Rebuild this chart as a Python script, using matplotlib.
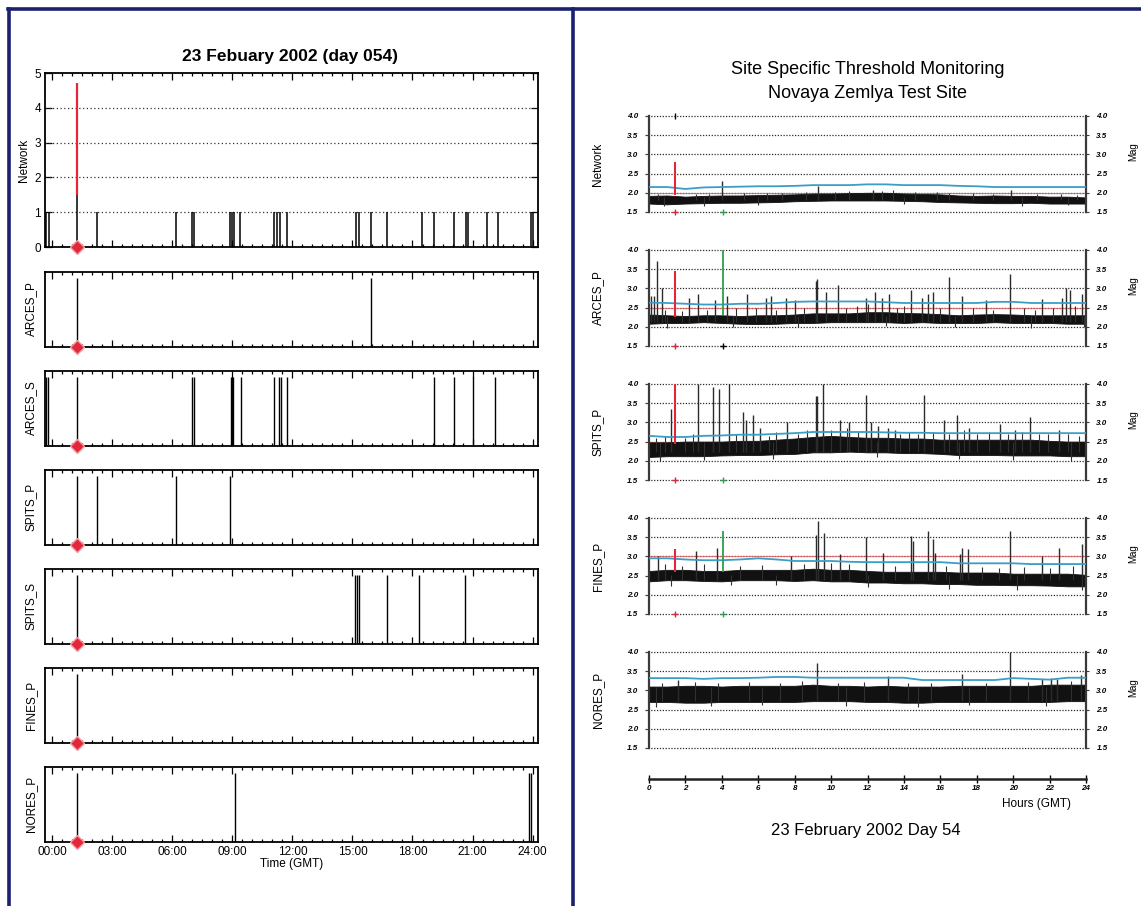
import numpy as np
import matplotlib.pyplot as plt
from matplotlib.lines import Line2D

plt.rcParams['font.family'] = ['Liberation Sans', 'DejaVu Sans']

# ---- left side: detections per station (hours GMT) ----
EVENT_LEFT = 1.25
net_det = [-0.30, -0.18, 2.22, 6.16, 6.99, 7.08, 8.87, 8.96, 9.06, 9.40,
           11.07, 11.25, 11.37, 11.75, 15.17, 15.31, 15.94, 16.74, 18.45,
           19.07, 20.09, 20.68, 20.77, 21.70, 22.29, 23.91, 24.0]
net_event_black = 1.5
net_event_red = 4.7
arces_p_det = [15.92]
arces_s_det = [-0.30, -0.20, 7.0, 7.08, 8.92, 9.0, 9.05, 9.42, 11.09, 11.35,
               11.41, 11.75, 19.05, 20.06, 21.0, 22.14]
spits_p_det = [2.22, 6.18, 8.87]
spits_s_det = [15.15, 15.22, 15.32, 16.72, 18.34, 20.63]
fines_p_det = []
nores_p_det = [9.12, 23.83, 23.9]
left_stations = ['ARCES_P', 'ARCES_S', 'SPITS_P', 'SPITS_S', 'FINES_P', 'NORES_P']
left_ticks = [0, 3, 6, 9, 12, 15, 18, 21, 24]
left_ticklabels = ['00:00', '03:00', '06:00', '09:00', '12:00', '15:00',
                   '18:00', '21:00', '24:00']

# ---- right side: threshold monitoring traces ----
hours = np.arange(25)
EVENT_RIGHT = 1.43
EVENT_2 = 4.06

net_low = [1.72, 1.70, 1.72, 1.73, 1.74, 1.74, 1.75, 1.76, 1.78, 1.79, 1.80, 1.80, 1.80,
           1.80, 1.79, 1.78, 1.76, 1.75, 1.74, 1.73, 1.73, 1.74, 1.72, 1.72, 1.72]
net_high = [1.92, 1.93, 1.90, 1.92, 1.93, 1.93, 1.94, 1.95, 1.96, 1.98, 1.98, 1.99, 2.00,
            2.00, 1.98, 1.97, 1.96, 1.93, 1.92, 1.93, 1.92, 1.92, 1.90, 1.90, 1.88]
net_thr = [2.15, 2.15, 2.10, 2.14, 2.15, 2.16, 2.17, 2.17, 2.18, 2.20, 2.20, 2.20, 2.22,
           2.22, 2.20, 2.20, 2.20, 2.18, 2.17, 2.15, 2.15, 2.15, 2.15, 2.15, 2.15]
net_spk_t = [4.0, 9.3, 12.3, 19.9]
net_spk_v = [2.30, 2.18, 2.08, 2.07]
net_up_t = [0.5, 2.6, 3.3, 5.2, 6.5, 7.3, 8.6, 10.2, 11.0, 12.8, 13.4, 14.6, 15.8,
            16.5, 17.8, 18.9, 21.3, 22.6, 23.5]
net_up_v = [1.98, 1.97, 1.98, 1.99, 2.00, 2.00, 2.02, 2.03, 2.04, 2.05, 2.06, 2.02, 2.03,
            2.00, 2.00, 1.98, 1.97, 1.96, 1.95]
net_dip_t = [0.8, 3.0, 6.0, 14.0, 20.5, 23.0]
net_dip_v = [1.65, 1.66, 1.68, 1.70, 1.66, 1.67]

arc_low = [2.08, 2.10, 2.10, 2.12, 2.10, 2.08, 2.07, 2.08, 2.10, 2.10, 2.12, 2.12, 2.12,
           2.12, 2.10, 2.12, 2.10, 2.10, 2.10, 2.12, 2.10, 2.10, 2.10, 2.08, 2.08]
arc_high = [2.32, 2.30, 2.28, 2.30, 2.30, 2.28, 2.30, 2.30, 2.32, 2.35, 2.35, 2.35, 2.38,
            2.38, 2.36, 2.35, 2.33, 2.30, 2.32, 2.33, 2.32, 2.30, 2.30, 2.30, 2.30]
arc_thr = [2.63, 2.62, 2.60, 2.58, 2.58, 2.60, 2.60, 2.62, 2.65, 2.66, 2.66, 2.66, 2.66,
           2.64, 2.62, 2.62, 2.62, 2.62, 2.62, 2.65, 2.65, 2.62, 2.62, 2.62, 2.62]
arc_spk_t = [0.1, 0.3, 0.46, 0.7, 2.2, 2.7, 3.6, 4.3, 5.4, 6.4, 6.7, 7.5, 8.0, 9.15, 9.25,
             9.74, 10.4, 11.9, 12.4, 12.8, 13.2, 14.4, 15.0, 15.3, 15.6, 16.5, 17.2,
             18.5, 19.8, 21.6, 22.7, 22.9, 23.1, 23.8]
arc_spk_v = [2.80, 2.80, 3.72, 3.00, 2.75, 2.85, 2.70, 2.80, 2.85, 2.75, 2.80, 2.75, 2.70,
             3.20, 3.25, 2.90, 3.10, 2.75, 2.90, 2.75, 2.85, 2.95, 2.75, 2.85, 2.90,
             3.30, 2.80, 2.70, 3.38, 2.72, 2.75, 3.00, 2.95, 2.85]
arc_up_t = [0.9, 1.8, 3.2, 4.8, 5.9, 7.0, 8.5, 10.8, 11.4, 12.0, 13.6, 14.0, 16.0, 17.8,
            18.9, 20.6, 21.2, 22.2, 23.4]
arc_up_v = [2.45, 2.42, 2.45, 2.50, 2.48, 2.45, 2.50, 2.50, 2.55, 2.60, 2.50, 2.55, 2.50,
            2.48, 2.45, 2.50, 2.45, 2.50, 2.55]
arc_dip_t = [1.0, 4.6, 8.2, 13.0, 16.8, 21.0, 23.9]
arc_dip_v = [1.98, 2.00, 2.00, 2.02, 2.00, 1.98, 2.00]

spi_low = [2.10, 2.12, 2.12, 2.12, 2.14, 2.15, 2.15, 2.17, 2.18, 2.22, 2.22, 2.24, 2.22,
           2.22, 2.20, 2.20, 2.18, 2.15, 2.15, 2.15, 2.14, 2.14, 2.14, 2.12, 2.12]
spi_high = [2.48, 2.48, 2.50, 2.50, 2.50, 2.52, 2.52, 2.55, 2.58, 2.62, 2.65, 2.62, 2.60,
            2.60, 2.58, 2.58, 2.55, 2.55, 2.55, 2.55, 2.55, 2.55, 2.52, 2.50, 2.50]
spi_thr = [2.65, 2.62, 2.62, 2.65, 2.66, 2.68, 2.68, 2.70, 2.72, 2.75, 2.75, 2.75, 2.75,
           2.74, 2.73, 2.73, 2.72, 2.72, 2.72, 2.72, 2.72, 2.72, 2.72, 2.72, 2.72]
spi_spk_t = [1.23, 2.7, 3.5, 3.86, 4.4, 5.15, 5.3, 5.7, 6.1, 7.6, 9.15, 9.25, 9.55, 10.5,
             11.0, 11.9, 12.2, 12.6, 13.1, 13.5, 15.1, 16.2, 16.9, 17.6, 19.3, 20.1,
             20.9, 22.5]
spi_spk_v = [3.35, 4.00, 3.92, 3.88, 4.00, 3.27, 3.05, 3.20, 2.85, 3.00, 3.68, 3.68, 4.00,
             3.05, 3.00, 3.72, 3.00, 2.90, 2.85, 2.80, 3.72, 3.05, 3.20, 2.85, 2.95,
             2.80, 3.15, 2.80]
spi_up_t = [0.4, 0.9, 2.0, 2.4, 4.8, 6.6, 7.0, 8.2, 8.7, 10.0, 10.9, 11.5, 13.8, 14.3,
            14.8, 15.6, 16.5, 17.3, 18.0, 18.7, 19.7, 20.5, 21.4, 21.9, 23.0, 23.6]
spi_up_v = [2.60, 2.65, 2.60, 2.70, 2.70, 2.65, 2.75, 2.70, 2.80, 2.80, 2.85, 2.75, 2.70,
            2.75, 2.70, 2.75, 2.70, 2.80, 2.70, 2.75, 2.70, 2.75, 2.70, 2.70, 2.70, 2.65]
spi_dip_t = [0.6, 3.0, 6.8, 12.5, 17.0, 20.0, 23.2]
spi_dip_v = [2.00, 2.02, 2.05, 2.10, 2.05, 2.02, 2.00]

fin_low = [2.35, 2.38, 2.38, 2.36, 2.35, 2.38, 2.38, 2.38, 2.36, 2.38, 2.35, 2.35, 2.32,
           2.32, 2.30, 2.30, 2.28, 2.28, 2.26, 2.26, 2.25, 2.25, 2.24, 2.22, 2.22]
fin_high = [2.62, 2.65, 2.65, 2.62, 2.62, 2.65, 2.65, 2.65, 2.65, 2.68, 2.65, 2.65, 2.62,
            2.60, 2.60, 2.60, 2.60, 2.58, 2.58, 2.58, 2.55, 2.55, 2.55, 2.55, 2.52]
fin_thr = [2.95, 2.95, 2.92, 2.90, 2.90, 2.92, 2.95, 2.92, 2.88, 2.88, 2.88, 2.86, 2.85,
           2.85, 2.85, 2.85, 2.85, 2.82, 2.82, 2.82, 2.82, 2.80, 2.80, 2.80, 2.80]
fin_spk_t = [0.5, 2.6, 3.76, 7.8, 9.15, 9.3, 9.6, 10.5, 11.9, 12.85, 14.4, 14.5, 15.3,
             15.6, 15.7, 17.1, 17.2, 17.5, 19.8, 21.6, 22.5, 23.8]
fin_spk_v = [3.00, 3.15, 3.22, 3.00, 3.55, 3.92, 3.60, 3.05, 3.50, 3.10, 3.52, 3.40, 3.65,
             3.45, 3.10, 3.05, 3.22, 3.18, 3.65, 3.00, 3.22, 3.32]
fin_up_t = [0.9, 1.8, 3.0, 5.0, 6.2, 8.5, 10.0, 11.0, 13.5, 16.3, 18.3, 19.2, 20.6, 22.0,
            23.3]
fin_up_v = [2.80, 2.75, 2.80, 2.75, 2.78, 2.80, 2.82, 2.80, 2.75, 2.75, 2.72, 2.70, 2.72,
            2.70, 2.75]
fin_dip_t = [1.2, 4.5, 7.0, 12.0, 16.5, 20.2, 23.8]
fin_dip_v = [2.22, 2.25, 2.25, 2.20, 2.15, 2.12, 2.12]

nor_low = [2.70, 2.70, 2.68, 2.68, 2.70, 2.70, 2.70, 2.70, 2.70, 2.72, 2.72, 2.72, 2.70,
           2.70, 2.68, 2.68, 2.70, 2.70, 2.70, 2.70, 2.70, 2.70, 2.70, 2.72, 2.72]
nor_high = [3.10, 3.10, 3.12, 3.12, 3.10, 3.12, 3.12, 3.12, 3.12, 3.15, 3.12, 3.12, 3.10,
            3.12, 3.10, 3.10, 3.10, 3.12, 3.12, 3.12, 3.12, 3.12, 3.15, 3.15, 3.15]
nor_thr = [3.32, 3.32, 3.32, 3.30, 3.32, 3.32, 3.33, 3.35, 3.35, 3.33, 3.33, 3.33, 3.33,
           3.33, 3.33, 3.27, 3.27, 3.27, 3.27, 3.27, 3.32, 3.30, 3.28, 3.33, 3.33]
nor_spk_t = [1.6, 9.2, 13.1, 17.2, 19.8, 21.6, 22.1, 22.4, 23.7]
nor_spk_v = [3.28, 3.72, 3.38, 3.42, 4.00, 3.30, 3.32, 3.30, 3.40]
nor_up_t = [0.7, 2.5, 3.8, 5.5, 7.2, 8.4, 10.4, 11.8, 14.2, 15.5, 18.5, 20.8, 23.2]
nor_up_v = [3.20, 3.22, 3.20, 3.22, 3.20, 3.25, 3.20, 3.22, 3.20, 3.18, 3.20, 3.22, 3.25]
nor_dip_t = [0.4, 3.4, 6.2, 10.8, 14.8, 17.6, 21.8]
nor_dip_v = [2.58, 2.60, 2.62, 2.60, 2.58, 2.62, 2.60]

right_names = ['Network', 'ARCES_P', 'SPITS_P', 'FINES_P', 'NORES_P']
red_level = [2.0, 2.5, 2.5, 3.0, 3.0]
# event spikes: (base, top)
event_red = [(1.95, 2.8), (2.25, 3.45), (2.45, 4.0), (2.6, 3.2), None]
event_green = [None, (2.3, 4.0), None, (2.6, 3.65), None]
foot_marks = [('#d8263a', '#2e9e48'), ('#d8263a', 'k'), ('#d8263a', '#2e9e48'),
              ('#d8263a', '#2e9e48'), None]

W, H = 1141, 906
fig = plt.figure(figsize=(W / 100, H / 100), dpi=100)


def box(l, t, r, b):
    return fig.add_axes([l / W, 1 - b / H, (r - l) / W, (b - t) / H])


NAVY = '#1c2070'
RED = '#e3263a'

# ── frame around both halves ──────────────────────────────────────────────
for xs, ys in [([8, W], [9, 9]), ([9, 9], [9, H]), ([573, 573], [9, H])]:
    fig.add_artist(Line2D([x / W for x in xs], [1 - y / H for y in ys],
                          color=NAVY, lw=2.6))

# ── left: detection panels ────────────────────────────────────────────────
XL = (-0.36, 24.27)


def style_left(ax):
    ax.set_xlim(*XL)
    ax.set_xticks(left_ticks)
    ax.set_xticks(np.arange(0, 24.01, 0.5), minor=True)
    ax.tick_params(which='both', direction='in', top=True, right=True,
                   labelbottom=False, width=0.9)
    ax.tick_params(which='major', length=5)
    ax.tick_params(which='minor', length=2.5)
    for s in ax.spines.values():
        s.set_linewidth(1.3)


def event_diamond(ax):
    ax.plot(EVENT_LEFT, 0, 'D', color=RED, ms=7, mec='#f29aa2', mew=1.0,
            clip_on=False, zorder=5)


ax = box(45, 73, 538, 247)
style_left(ax)
ax.set_ylim(0, 5)
ax.set_yticks(range(6))
ax.tick_params(axis='y', labelsize=8.5, pad=3)
for y in range(1, 5):
    ax.axhline(y, ls=(0, (1, 2)), color='#333333', lw=0.9)
ax.vlines(net_det, 0, 1, color='k', lw=1.1)
ax.vlines(EVENT_LEFT, 0, net_event_black, color='k', lw=1.1)
ax.vlines(EVENT_LEFT, net_event_black, net_event_red, color=RED, lw=1.6)
event_diamond(ax)
ax.set_ylabel('Network', fontsize=8.5, labelpad=3)
fig.text(290 / W, 1 - 56 / H, '23 Febuary 2002 (day 054)', ha='center',
         va='center', fontsize=12.5, fontweight='bold')

left_det = [arces_p_det, arces_s_det, spits_p_det, spits_s_det, fines_p_det,
            nores_p_det]
for i, (name, det) in enumerate(zip(left_stations, left_det)):
    top = 272 + 99 * i
    ax = box(45, top, 538, top + 75)
    style_left(ax)
    ax.set_ylim(0, 1.08)
    ax.set_yticks([])
    ax.vlines(det, 0, 1, color='k', lw=1.0)
    ax.vlines(EVENT_LEFT, 0, 1, color='k', lw=1.0)
    event_diamond(ax)
    fig.text(31 / W, 1 - (top + 37) / H, name, rotation=90, ha='center',
             va='center', fontsize=8.5)
    if i == len(left_stations) - 1:
        ax.tick_params(labelbottom=True, labelsize=8.5, pad=3)
        ax.set_xticklabels(left_ticklabels)
        ax.set_xlabel('Time (GMT)', fontsize=8.5, labelpad=0)

# ── right: site specific threshold monitoring ─────────────────────────────
fig.text(868 / W, 1 - 70 / H, 'Site Specific Threshold Monitoring',
         ha='center', va='center', fontsize=13)
fig.text(868 / W, 1 - 94 / H, 'Novaya Zemlya Test Site',
         ha='center', va='center', fontsize=13)

bands = [(net_low, net_high), (arc_low, arc_high), (spi_low, spi_high),
         (fin_low, fin_high), (nor_low, nor_high)]
thresholds = [net_thr, arc_thr, spi_thr, fin_thr, nor_thr]
spikes = [(net_spk_t, net_spk_v), (arc_spk_t, arc_spk_v), (spi_spk_t, spi_spk_v),
          (fin_spk_t, fin_spk_v), (nor_spk_t, nor_spk_v)]
small_up = [(net_up_t, net_up_v), (arc_up_t, arc_up_v), (spi_up_t, spi_up_v),
            (fin_up_t, fin_up_v), (nor_up_t, nor_up_v)]
small_dip = [(net_dip_t, net_dip_v), (arc_dip_t, arc_dip_v), (spi_dip_t, spi_dip_v),
             (fin_dip_t, fin_dip_v), (nor_dip_t, nor_dip_v)]
levels = np.arange(1.5, 4.01, 0.5)
narrow = ['Liberation Sans Narrow', 'Liberation Sans']

for i, name in enumerate(right_names):
    top = 116 + 134 * i
    ax = box(649, top, 1086, top + 96)
    ax.set_xlim(0, 24)
    ax.set_ylim(1.5, 4.0)
    ax.patch.set_visible(False)
    ax.spines['top'].set_visible(False)
    ax.spines['bottom'].set_visible(False)
    for s in ('left', 'right'):
        ax.spines[s].set_color('#3a3a3a')
        ax.spines[s].set_linewidth(1.6)
    ax.set_xticks([])
    ax.set_yticks(levels)
    ax.set_yticklabels([f'{v:.1f}' for v in levels], fontsize=5.8,
                       fontstyle='italic', fontweight='bold')
    ax.tick_params(axis='y', left=True, right=True, labelright=True,
                   length=2.5, width=0.8, pad=5, color='#3a3a3a')
    for y in levels:
        ax.plot([-0.2, 24], [y, y], ls=(0, (1, 1.3)), color='#2a2a2a', lw=0.9,
                clip_on=False, zorder=1)
    ax.axhline(red_level[i], color='#e26060', lw=0.8, alpha=0.8, zorder=1.5)

    lo, hi = bands[i]
    ax.fill_between(hours, lo, hi, color='#111111', lw=0.6, zorder=2)
    # short spikes poke out of the noise band, so start them inside it
    ut, uv = small_up[i]
    ax.vlines(ut, np.max(lo), uv, color='#303030', lw=0.8, zorder=2)
    dt, dv = small_dip[i]
    ax.vlines(dt, dv, np.min(hi), color='#303030', lw=0.8, zorder=2)
    st, sv = spikes[i]
    ax.vlines(st, np.max(lo), sv, color='#2b2b2b', lw=1.0, zorder=2)
    ax.plot(hours, thresholds[i], color='#3a9ec6', lw=1.3, zorder=3)

    if event_red[i]:
        ax.vlines(EVENT_RIGHT, *event_red[i], color=RED, lw=1.5, zorder=4)
    if event_green[i]:
        ax.vlines(EVENT_2, *event_green[i], color='#2e9e48', lw=1.3, zorder=4)
    if foot_marks[i]:
        c1, c2 = foot_marks[i]
        ax.plot(EVENT_RIGHT, 1.5, '+', color=c1, ms=5, mew=1.0, clip_on=False, zorder=5)
        ax.plot(EVENT_2, 1.5, '+', color=c2, ms=5, mew=1.0, clip_on=False, zorder=5)
    if i == 0:
        ax.plot(EVENT_RIGHT, 4.0, '|', color='k', ms=5, mew=1.0, clip_on=False, zorder=5)

    fig.text(598 / W, 1 - (top + 48) / H, name, rotation=90, ha='center',
             va='center', fontsize=8.5, family=narrow)
    fig.text(1133 / W, 1 - (top + 36) / H, 'Mag', rotation=90, ha='center',
             va='center', fontsize=7, family=narrow)

# hours axis underneath the stack
ax = box(649, 778, 1086, 779)
ax.set_xlim(0, 24)
ax.set_ylim(0, 1)
ax.patch.set_visible(False)
for s in ('top', 'left', 'right'):
    ax.spines[s].set_visible(False)
ax.spines['bottom'].set_linewidth(1.8)
ax.spines['bottom'].set_color('#222222')
ax.set_yticks([])
ax.set_xticks(range(0, 25, 2))
ax.set_xticklabels([str(h) for h in range(0, 25, 2)], fontsize=5.8,
                   fontstyle='italic', fontweight='bold')
ax.tick_params(axis='x', direction='inout', length=6, width=1.0, pad=1)
fig.text(1037 / W, 1 - 804 / H, 'Hours (GMT)', ha='center', va='center',
         fontsize=8.5, family=narrow)
fig.text(866 / W, 1 - 831 / H, '23 February 2002 Day 54', ha='center',
         va='center', fontsize=12)

fig.savefig('out.png', dpi=100)
